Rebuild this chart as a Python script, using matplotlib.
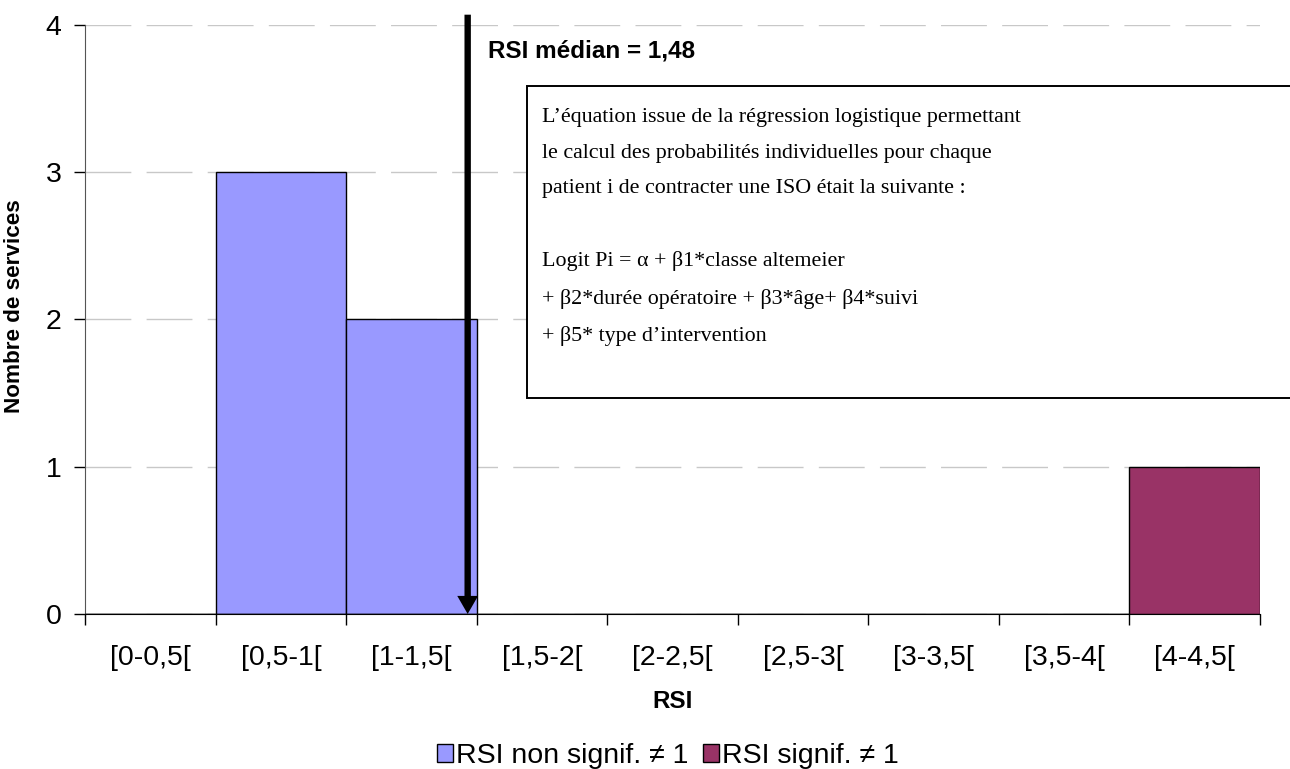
import matplotlib.pyplot as plt
from matplotlib.patches import Rectangle

categories = ["[0-0,5[", "[0,5-1[", "[1-1,5[", "[1,5-2[", "[2-2,5[",
              "[2,5-3[", "[3-3,5[", "[3,5-4[", "[4-4,5["]
non_signif = [0, 3, 2, 0, 0, 0, 0, 0, 0]
signif = [0, 0, 0, 0, 0, 0, 0, 0, 1]
median_rsi = 1.48
median_label = "RSI médian = 1,48"
legend_labels = ["RSI non signif. \u2260 1", "RSI signif. \u2260 1"]
box_text = ("L\u2019équation issue de la régression logistique permettant\n"
            "le calcul des probabilités individuelles pour chaque\n"
            "patient i de contracter une ISO était la suivante :\n"
            "\n"
            "Logit Pi = \u03b1 + \u03b21*classe altemeier\n"
            "+ \u03b22*durée opératoire + \u03b23*âge+ \u03b24*suivi\n"
            "+ \u03b25* type d\u2019intervention")

plt.rcParams["font.family"] = ["Liberation Sans", "DejaVu Sans"]

fig = plt.figure(figsize=(12.9, 7.69), dpi=100)
ax = fig.add_axes([0.0659, 0.2016, 0.9108, 0.7659])

x = list(range(len(categories)))
ax.bar(x, non_signif, width=1.0, color="#9999FF", edgecolor="black",
       linewidth=1, label=legend_labels[0], zorder=3)
ax.bar(x, signif, width=1.0, color="#993366", edgecolor="black",
       linewidth=1, label=legend_labels[1], zorder=3)

ax.set_xlim(-0.5, len(categories) - 0.5)
ax.set_ylim(0, 4)
ax.set_yticks([0, 1, 2, 3, 4])
ax.set_xticks([i - 0.5 for i in range(len(categories) + 1)])
ax.set_xticklabels([])
ax.set_xticks(x, minor=True)
ax.set_xticklabels(categories, minor=True)
ax.tick_params(axis="x", which="major", length=8, width=1, direction="out")
ax.tick_params(axis="x", which="minor", length=0, pad=22, labelsize=20.5)
ax.tick_params(axis="y", length=8, width=1, direction="out", labelsize=20.5, pad=9)

ax.grid(axis="y", color="#c8c8c8", linestyle=(0, (33, 11)), linewidth=1, zorder=0)
ax.spines["top"].set_visible(False)
ax.spines["right"].set_visible(False)
ax.spines["left"].set_color("#555555")
ax.spines["bottom"].set_zorder(4)

ax.set_xlabel("RSI", fontsize=17.5, fontweight="bold", labelpad=14)
ax.set_ylabel("Nombre de services", fontsize=16.2, fontweight="bold")
ax.yaxis.set_label_coords(-0.051, 0.523)

# median arrow: position inside the [1-1,5[ bin
xm = 2 - 0.5 + (median_rsi - 1.0) / 0.5 * 0.97
ax.annotate("", xy=(xm, 0), xytext=(xm, 4.07), annotation_clip=False,
            arrowprops=dict(width=4.6, headwidth=15, headlength=13,
                            facecolor="black", edgecolor="black", lw=0),
            zorder=6)
ax.text(2.59, 3.82, median_label, fontsize=17.5, fontweight="bold",
        va="center", ha="left")

# equation box (runs off the right edge like the original)
fig.patches.append(Rectangle((0.4085, 0.4824), 0.62, 0.4057,
                             transform=fig.transFigure, facecolor="white",
                             edgecolor="black", linewidth=1.4, zorder=5))
fig.text(0.420, 0.859, box_text, family=["Liberation Serif", "DejaVu Serif"],
         fontsize=15.8, va="top", ha="left", linespacing=2.17, zorder=6)

fig.legend(loc="center left", bbox_to_anchor=(0.3388, 0.017), ncol=2,
           frameon=False, fontsize=20.5, handlelength=0.56, handleheight=0.56,
           handletextpad=0.12, columnspacing=0.5, borderaxespad=0, borderpad=0)

fig.savefig("out.png", dpi=100, facecolor="white")
